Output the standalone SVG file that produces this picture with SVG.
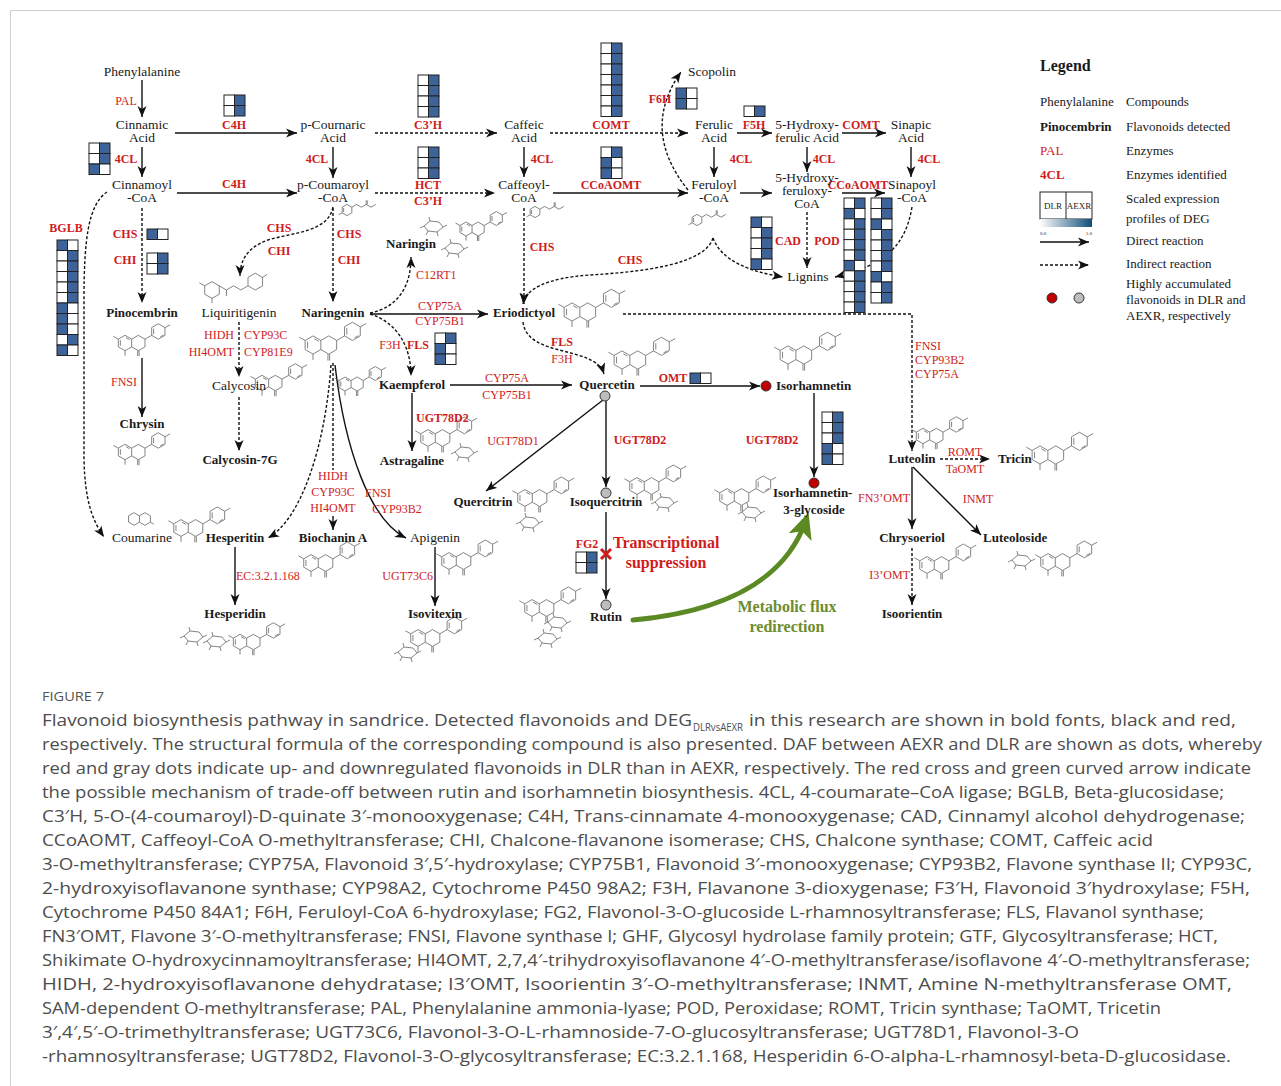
<svg xmlns="http://www.w3.org/2000/svg" width="1281" height="1086" viewBox="0 0 1281 1086">
<defs>
<style>
.c{font-family:"Liberation Serif",serif;font-size:13.5px;fill:#1a1a1a;text-anchor:middle}
.b{font-weight:bold;font-size:13px}
.e{font-family:"Liberation Serif",serif;font-size:12px;fill:#d01c1c;text-anchor:middle}
.eb{font-weight:bold}
.st{text-anchor:start}
.en{text-anchor:end}
.ln{fill:none;stroke:#111;stroke-width:1.4}
.dl{stroke-dasharray:3 2}
.mol{fill:none;stroke:#666;stroke-width:0.8}
.hw{fill:#fff;stroke:#222;stroke-width:1}
.hb{fill:#3d6399;stroke:#222;stroke-width:1}
.cap{font-family:"Open Sans",sans-serif;font-size:17px;fill:#4d4d4d}
.lg{font-family:"Liberation Serif",serif;font-size:13px;fill:#1a1a1a}
.gr{font-family:"Liberation Serif",serif;font-size:16px;font-weight:bold;fill:#6d8c2e;text-anchor:middle}
</style>
<marker id="ar" markerUnits="userSpaceOnUse" markerWidth="12" markerHeight="10" refX="11" refY="5" orient="auto"><path d="M0,0.5 L11,5 L0,9.5 L3,5Z" fill="#111"/></marker>
<marker id="ga" markerUnits="userSpaceOnUse" markerWidth="26" markerHeight="24" refX="18" refY="12" orient="auto"><path d="M0,0 L26,12 L0,24 L6,12Z" fill="#5b8a24"/></marker>
<linearGradient id="grd"><stop offset="0" stop-color="#ffffff"/><stop offset="1" stop-color="#0f4f78"/></linearGradient>
<g id="wb"><rect class="hw" width="10.5" height="10.5"/><rect class="hb" x="10.5" width="10.5" height="10.5"/></g>
<g id="bw"><rect class="hb" width="10.5" height="10.5"/><rect class="hw" x="10.5" width="10.5" height="10.5"/></g>
<path id="fl" class="mol" vector-effect="non-scaling-stroke" d="M0,-7 L6.06,-3.5 L6.06,3.5 L0,7 L-6.06,3.5 L-6.06,-3.5 Z M-4.2,-2.5 L-4.2,2.5 M1,-4.8 L4.3,-2.9 M6.06,-3.5 L12.12,-7 L18.18,-3.5 L18.18,3.5 L12.12,7 L6.06,3.5 M11.5,7 L11.5,12 M12.8,7 L12.8,12 M18.18,-3.5 L24.24,-7 M24.24,-7 L24.24,-14 L30.3,-17.5 L36.36,-14 L36.36,-7 L30.3,-3.5 Z M26,-8 L26,-13 M32,-5.5 L35,-7.2 M36.36,-14 L41,-16.5 M-6.06,-3.5 L-10.5,-6 M0,7 L0,11.5"/>
<path id="sg" class="mol" vector-effect="non-scaling-stroke" d="M0,0 L6,-5 L15,-4 L19,1 L13,6 L4,5 Z M19,1 L23,-1 M6,-5 L5,-9 M4,5 L2,9 M13,6 L14,10 M0,0 L-4,2"/>
<path id="cc" class="mol" vector-effect="non-scaling-stroke" d="M0,-7 L6.06,-3.5 L6.06,3.5 L0,7 L-6.06,3.5 L-6.06,-3.5 Z M-4.2,-2.5 L-4.2,2.5 M6.06,-3.5 L12,-7 L18,-3.5 L24,-7 L30,-3.5 L36,-7 M24,-7 L24,-12 M25.3,-7 L25.3,-12 M-6.06,3.5 L-10.5,6"/>
<path id="ch" class="mol" vector-effect="non-scaling-stroke" d="M0,-7 L6.06,-3.5 L6.06,3.5 L0,7 L-6.06,3.5 L-6.06,-3.5 Z M6.06,-3.5 L12,0 L18,-3.5 L24,0 L30,-3.5 M12,0 L12,5 M30,-3.5 L30,-10.5 L36.06,-14 L42.12,-10.5 L42.12,-3.5 L36.06,0 Z M42.12,-10.5 L46,-13 M-6.06,-3.5 L-10.5,-6 M0,7 L0,11"/>
<path id="cm" class="mol" vector-effect="non-scaling-stroke" d="M0,-7 L6.06,-3.5 L6.06,3.5 L0,7 L-6.06,3.5 L-6.06,-3.5 Z M6.06,-3.5 L12.12,-7 L18.18,-3.5 L18.18,3.5 L12.12,7 L6.06,3.5 M18.18,3.5 L22,6"/>
</defs>
<rect width="1281" height="1086" fill="#fff"/>
<path d="M10.5,1086 L10.5,10.5 L1281,10.5" fill="none" stroke="#cfcfcf" stroke-width="1"/>

<g id="connectors">
<path class="ln" marker-end="url(#ar)" d="M142,80 L142,117"/>
<path class="ln" marker-end="url(#ar)" d="M142,147 L142,177"/>
<path class="ln" marker-end="url(#ar)" d="M175,133 L297,133"/>
<path class="ln" marker-end="url(#ar)" d="M177,193 L297,193"/>
<path class="ln" marker-end="url(#ar)" d="M333,147 L333,178"/>
<path class="ln dl" marker-end="url(#ar)" d="M375,133 L497,133"/>
<path class="ln dl" marker-end="url(#ar)" d="M375,193 L495,193"/>
<path class="ln" marker-end="url(#ar)" d="M524,147 L524,177"/>
<path class="ln dl" marker-end="url(#ar)" d="M550,133 L688,133"/>
<path class="ln" marker-end="url(#ar)" d="M553,193 L688,193"/>
<path class="ln" marker-end="url(#ar)" d="M714,147 L714,177"/>
<path class="ln" marker-end="url(#ar)" d="M737,133 L772,133"/>
<path class="ln" marker-end="url(#ar)" d="M807,147 L807,172"/>
<path class="ln" marker-end="url(#ar)" d="M740,193 L772,193"/>
<path class="ln" marker-end="url(#ar)" d="M842,133 L886,133"/>
<path class="ln" marker-end="url(#ar)" d="M911,147 L911,177"/>
<path class="ln" marker-end="url(#ar)" d="M842,193 L885,193"/>
<path class="ln dl" marker-end="url(#ar)" d="M688,190 Q640,130 681,72"/>
<path class="ln dl" marker-end="url(#ar)" d="M807,212 L807,268"/>
<path class="ln dl" marker-end="url(#ar)" d="M912,207 C905,250 880,266 835,277"/>
<path class="ln dl" marker-end="url(#ar)" d="M713,238 C722,262 752,272 783,277"/>
<path class="ln dl" marker-end="url(#ar)" d="M713,238 C705,265 640,272 590,275 C545,278 525,290 523,304"/>
<path class="ln dl" marker-end="url(#ar)" d="M524,208 L524,304"/>
<path class="ln dl" marker-end="url(#ar)" d="M333,208 L333,302"/>
<path class="ln dl" marker-end="url(#ar)" d="M333,207 C328,232 295,232 268,240 C248,247 240,260 240,276"/>
<path class="ln dl" marker-end="url(#ar)" d="M142,208 L142,303"/>
<path class="ln dl" marker-end="url(#ar)" d="M107,192 C88,205 84,240 84,300 L84,460 C85,500 92,520 104,537"/>
<path class="ln" marker-end="url(#ar)" d="M142,358 L142,417"/>
<path class="ln dl" marker-end="url(#ar)" d="M239,322 L239,377"/>
<path class="ln dl" marker-end="url(#ar)" d="M239,397 L239,451"/>
<path class="ln dl" marker-end="url(#ar)" d="M370,313 C395,308 411,290 411,257"/>
<path class="ln" marker-end="url(#ar)" d="M370,314 L488,314"/>
<path class="ln dl" marker-end="url(#ar)" d="M370,314 C396,322 411,345 411,376"/>
<path class="ln" marker-end="url(#ar)" d="M450,385 L572,385"/>
<path class="ln" marker-end="url(#ar)" d="M412,393 L412,451"/>
<path class="ln dl" marker-end="url(#ar)" d="M523,322 C527,358 595,345 604,374"/>
<path class="ln dl" marker-end="url(#ar)" d="M623,314 L912,314 L912,451"/>
<path class="ln" marker-end="url(#ar)" d="M640,386 L760,386"/>
<path class="ln" marker-end="url(#ar)" d="M603,400 L486,491"/>
<path class="ln" marker-end="url(#ar)" d="M606,401 L606,487"/>
<path class="ln" marker-end="url(#ar)" d="M606,512 L606,599"/>
<path class="ln" marker-end="url(#ar)" d="M814,393 L814,477"/>
<path class="ln dl" d="M333,363 L333,470"/>
<path class="ln" marker-end="url(#ar)" d="M333,516 L333,530"/>
<path class="ln dl" marker-end="url(#ar)" d="M331,365 C325,450 300,520 268,538"/>
<path class="ln" marker-end="url(#ar)" d="M335,365 C345,450 370,520 406,538"/>
<path class="ln" marker-end="url(#ar)" d="M235,547 L235,605"/>
<path class="ln" marker-end="url(#ar)" d="M435,547 L435,606"/>
<path class="ln dl" marker-end="url(#ar)" d="M940,459 L990,459"/>
<path class="ln" marker-end="url(#ar)" d="M912,467 L912,529"/>
<path class="ln" marker-end="url(#ar)" d="M913,467 L981,535"/>
<path class="ln dl" marker-end="url(#ar)" d="M912,548 L912,605"/>
<path fill="none" stroke="#5b8a24" stroke-width="5" stroke-linecap="round" marker-end="url(#ga)" d="M633,620 C720,612 785,582 806,520"/>
<path d="M601,549 L611,559 M611,549 L601,559" stroke="#d01c1c" stroke-width="3"/>
</g>

<g id="structures">
<use href="#cc" transform="translate(347,210) scale(0.8)"/>
<use href="#cc" transform="translate(535,212) scale(0.8)"/>
<use href="#cc" transform="translate(697,220) scale(0.8)"/>
<use href="#fl" transform="translate(466,229) scale(1.0)"/>
<use href="#sg" transform="translate(424,226)"/>
<use href="#sg" transform="translate(445,248)"/>
<use href="#ch" transform="translate(212,290) scale(1.2)"/>
<use href="#fl" transform="translate(313,345) scale(1.3)"/>
<use href="#fl" transform="translate(125,343) scale(1.1)"/>
<use href="#fl" transform="translate(125,452) scale(1.1)"/>
<use href="#fl" transform="translate(262,383) scale(1.1)"/>
<use href="#fl" transform="translate(345,384) scale(1.0)"/>
<use href="#fl" transform="translate(572,312) scale(1.3)"/>
<use href="#fl" transform="translate(622,360) scale(1.3)"/>
<use href="#fl" transform="translate(788,355) scale(1.3)"/>
<use href="#fl" transform="translate(428,438) scale(1.2)"/>
<use href="#sg" transform="translate(455,452)"/>
<use href="#fl" transform="translate(525,498) scale(1.2)"/>
<use href="#sg" transform="translate(520,522)"/>
<use href="#fl" transform="translate(637,486) scale(1.2)"/>
<use href="#sg" transform="translate(655,502)"/>
<use href="#fl" transform="translate(532,608) scale(1.2)"/>
<use href="#sg" transform="translate(548,622)"/>
<use href="#sg" transform="translate(538,638)"/>
<use href="#fl" transform="translate(727,497) scale(1.2)"/>
<use href="#sg" transform="translate(742,512)"/>
<use href="#fl" transform="translate(923,436) scale(1.1)"/>
<use href="#fl" transform="translate(1040,455) scale(1.3)"/>
<use href="#fl" transform="translate(927,565) scale(1.2)"/>
<use href="#sg" transform="translate(1012,560)"/>
<use href="#fl" transform="translate(1048,562) scale(1.2)"/>
<use href="#cm" transform="translate(134,519) scale(0.9)"/>
<use href="#fl" transform="translate(181,528) scale(1.2)"/>
<use href="#fl" transform="translate(311,563) scale(1.2)"/>
<use href="#fl" transform="translate(449,561) scale(1.2)"/>
<use href="#sg" transform="translate(184,636)"/>
<use href="#sg" transform="translate(207,641)"/>
<use href="#fl" transform="translate(240,642) scale(1.1)"/>
<use href="#fl" transform="translate(418,638) scale(1.2)"/>
<use href="#sg" transform="translate(398,652)"/>
</g>

<g id="heatmaps">
<g id="hm-c4h" transform="translate(224,95)"><use href="#wb"/><use href="#wb" y="10.5"/></g>
<g id="hm-4cl" transform="translate(89,143)"><use href="#wb"/><use href="#wb" y="10.5"/><use href="#bw" y="21"/></g>
<g id="hm-c3h" transform="translate(418,75)"><use href="#wb"/><use href="#wb" y="10.5"/><use href="#wb" y="21"/><use href="#wb" y="31.5"/></g>
<g id="hm-hct" transform="translate(418,147)"><use href="#wb"/><use href="#wb" y="10.5"/><use href="#wb" y="21"/></g>
<g id="hm-comt" transform="translate(601,43)"><use href="#wb"/><use href="#wb" y="10.5"/><use href="#wb" y="21"/><use href="#wb" y="31.5"/><use href="#wb" y="42"/><use href="#wb" y="52.5"/><use href="#wb" y="63"/></g>
<g id="hm-ccoaomt" transform="translate(601,147)"><use href="#wb"/><use href="#bw" y="10.5"/><use href="#bw" y="21"/></g>
<g id="hm-f6h" transform="translate(676,88)"><use href="#bw"/><use href="#bw" y="10.5"/></g>
<g id="hm-f5h" transform="translate(744,106)"><use href="#wb"/></g>
<g id="hm-cad" transform="translate(751,217)"><use href="#bw"/><use href="#wb" y="10.5"/><use href="#wb" y="21"/><use href="#wb" y="31.5"/><use href="#bw" y="42"/></g>
<g id="hm-big1" transform="translate(844,198)"><use href="#wb"/><use href="#bw" y="10.4"/><use href="#wb" y="20.8"/><use href="#wb" y="31.2"/><use href="#wb" y="41.6"/><use href="#wb" y="52"/><use href="#bw" y="62.4"/><use href="#wb" y="72.8"/><use href="#wb" y="83.2"/><use href="#wb" y="93.6"/><use href="#wb" y="104"/></g>
<g id="hm-big2" transform="translate(871,198)"><use href="#wb"/><use href="#wb" y="10.5"/><use href="#bw" y="21"/><use href="#wb" y="31.5"/><use href="#wb" y="42"/><use href="#wb" y="52.5"/><use href="#wb" y="63"/><use href="#bw" y="73.5"/><use href="#wb" y="84"/><use href="#wb" y="94.5"/></g>
<g id="hm-bglb" transform="translate(57,240)"><use href="#bw"/><use href="#wb" y="10.5"/><use href="#wb" y="21"/><use href="#wb" y="31.5"/><use href="#wb" y="42"/><use href="#wb" y="52.5"/><use href="#bw" y="63"/><use href="#bw" y="73.5"/><use href="#bw" y="84"/><use href="#wb" y="94.5"/><use href="#bw" y="105"/></g>
<g id="hm-chs" transform="translate(147,229)"><use href="#bw"/></g>
<g id="hm-chi" transform="translate(147,253)"><use href="#wb"/><use href="#wb" y="10.5"/></g>
<g id="hm-fls" transform="translate(435,333)"><use href="#wb"/><use href="#bw" y="10.5"/><use href="#bw" y="21"/></g>
<g id="hm-omt" transform="translate(690,373)"><use href="#bw"/></g>
<g id="hm-ugt" transform="translate(822,412)"><use href="#wb"/><use href="#wb" y="10.5"/><use href="#wb" y="21"/><use href="#bw" y="31.5"/><use href="#bw" y="42"/></g>
<g id="hm-fg2" transform="translate(576,552)"><use href="#wb"/><use href="#wb" y="10.5"/></g>
</g>

<g id="enzymes">
<text class="e" x="126" y="105">PAL</text>
<text class="e eb" x="126" y="163">4CL</text>
<text class="e eb" x="234" y="129">C4H</text>
<text class="e eb" x="234" y="188">C4H</text>
<text class="e eb" x="317" y="163">4CL</text>
<text class="e eb" x="428" y="129">C3’H</text>
<text class="e eb" x="428" y="189">HCT</text>
<text class="e eb" x="428" y="205">C3’H</text>
<text class="e eb" x="542" y="163">4CL</text>
<text class="e eb" x="611" y="129">COMT</text>
<text class="e eb" x="611" y="189">CCoAOMT</text>
<text class="e eb" x="660" y="103">F6H</text>
<text class="e eb" x="741" y="163">4CL</text>
<text class="e eb" x="754" y="129">F5H</text>
<text class="e eb" x="824" y="163">4CL</text>
<text class="e eb" x="861" y="129">COMT</text>
<text class="e eb" x="929" y="163">4CL</text>
<text class="e eb" x="858" y="189">CCoAOMT</text>
<text class="e eb" x="788" y="245">CAD</text>
<text class="e eb" x="827" y="245">POD</text>
<text class="e eb" x="542" y="251">CHS</text>
<text class="e eb" x="630" y="264">CHS</text>
<text class="e st" x="416" y="279">C12RT1</text>
<text class="e eb" x="279" y="232">CHS</text>
<text class="e eb" x="279" y="255">CHI</text>
<text class="e eb" x="349" y="238">CHS</text>
<text class="e eb" x="349" y="264">CHI</text>
<text class="e eb" x="125" y="238">CHS</text>
<text class="e eb" x="125" y="264">CHI</text>
<text class="e eb" x="66" y="232">BGLB</text>
<text class="e" x="440" y="310">CYP75A</text>
<text class="e" x="440" y="325">CYP75B1</text>
<text class="e" x="390" y="349">F3H</text>
<text class="e eb" x="418" y="349">FLS</text>
<text class="e en" x="234" y="339">HIDH</text>
<text class="e en" x="234" y="356">HI4OMT</text>
<text class="e st" x="244" y="339">CYP93C</text>
<text class="e st" x="244" y="356">CYP81E9</text>
<text class="e" x="124" y="386">FNSI</text>
<text class="e" x="507" y="382">CYP75A</text>
<text class="e" x="507" y="399">CYP75B1</text>
<text class="e eb" x="562" y="346">FLS</text>
<text class="e" x="562" y="363">F3H</text>
<text class="e eb" x="673" y="382">OMT</text>
<text class="e eb st" x="416" y="422">UGT78D2</text>
<text class="e" x="513" y="445">UGT78D1</text>
<text class="e eb" x="640" y="444">UGT78D2</text>
<text class="e eb" x="772" y="444">UGT78D2</text>
<text class="e st" x="915" y="350">FNSI</text>
<text class="e st" x="915" y="364">CYP93B2</text>
<text class="e st" x="915" y="378">CYP75A</text>
<text class="e" x="965" y="456">ROMT</text>
<text class="e" x="965" y="473">TaOMT</text>
<text class="e" x="333" y="480">HIDH</text>
<text class="e" x="333" y="496">CYP93C</text>
<text class="e" x="333" y="512">HI4OMT</text>
<text class="e" x="378" y="497">FNSI</text>
<text class="e" x="397" y="513">CYP93B2</text>
<text class="e st" x="858" y="502">FN3’OMT</text>
<text class="e" x="978" y="503">INMT</text>
<text class="e eb" x="587" y="548">FG2</text>
<text class="e st" x="236" y="580">EC:3.2.1.168</text>
<text class="e en" x="433" y="580">UGT73C6</text>
<text class="e en" x="910" y="579">I3’OMT</text>
<text class="e eb st" x="613" y="548" style="font-size:16px">Transcriptional</text>
<text class="e eb" x="666" y="568" style="font-size:16px">suppression</text>
</g>

<g id="nodes">
<g id="n-phenylalanine"><text class="c" x="142" y="76">Phenylalanine</text></g>
<g id="n-cinnamic"><text class="c" x="142" y="129">Cinnamic</text><text class="c" x="142" y="142">Acid</text></g>
<g id="n-cinnamoyl"><text class="c" x="142" y="189">Cinnamoyl</text><text class="c" x="142" y="202">-CoA</text></g>
<g id="n-pcoumaric"><text class="c" x="333" y="129">p-Cournaric</text><text class="c" x="333" y="142">Acid</text></g>
<g id="n-pcoumaroyl"><text class="c" x="333" y="189">p-Coumaroyl</text><text class="c" x="333" y="202">-CoA</text></g>
<g id="n-caffeic"><text class="c" x="524" y="129">Caffeic</text><text class="c" x="524" y="142">Acid</text></g>
<g id="n-caffeoyl"><text class="c" x="524" y="189">Caffeoyl-</text><text class="c" x="524" y="202">CoA</text></g>
<g id="n-scopolin"><text class="c" x="712" y="76">Scopolin</text></g>
<g id="n-ferulic"><text class="c" x="714" y="129">Ferulic</text><text class="c" x="714" y="142">Acid</text></g>
<g id="n-feruloyl"><text class="c" x="714" y="189">Feruloyl</text><text class="c" x="714" y="202">-CoA</text></g>
<g id="n-5hfa"><text class="c" x="807" y="129">5-Hydroxy-</text><text class="c" x="807" y="142">ferulic Acid</text></g>
<g id="n-5hfc"><text class="c" x="807" y="182">5-Hydroxy-</text><text class="c" x="807" y="195">feruloxy-</text><text class="c" x="807" y="208">CoA</text></g>
<g id="n-sinapic"><text class="c" x="911" y="129">Sinapic</text><text class="c" x="911" y="142">Acid</text></g>
<g id="n-sinapoyl"><text class="c" x="912" y="189">Sinapoyl</text><text class="c" x="912" y="202">-CoA</text></g>
<g id="n-lignins"><text class="c" x="808" y="281">Lignins</text></g>
<g id="n-naringin"><text class="c b" x="411" y="248">Naringin</text></g>
<g id="n-pinocembrin"><text class="c b" x="142" y="317">Pinocembrin</text></g>
<g id="n-liquiritigenin"><text class="c" x="239" y="317">Liquiritigenin</text></g>
<g id="n-naringenin"><text class="c b" x="333" y="317">Naringenin</text></g>
<g id="n-eriodictyol"><text class="c b" x="524" y="317">Eriodictyol</text></g>
<g id="n-calycosin"><text class="c" x="239" y="390">Calycosin</text></g>
<g id="n-kaempferol"><text class="c b" x="412" y="389">Kaempferol</text></g>
<g id="n-quercetin"><text class="c b" x="607" y="389">Quercetin</text><circle cx="605" cy="396" r="5" fill="#bdbdbd" stroke="#333" stroke-width="1"/></g>
<g id="n-isorhamnetin"><circle cx="766" cy="386" r="5" fill="#c00000" stroke="#333" stroke-width="1"/><text class="c b st" x="776" y="390">Isorhamnetin</text></g>
<g id="n-chrysin"><text class="c b" x="142" y="428">Chrysin</text></g>
<g id="n-calycosin7g"><text class="c b" x="240" y="464">Calycosin-7G</text></g>
<g id="n-astragaline"><text class="c b" x="412" y="465">Astragaline</text></g>
<g id="n-luteolin"><text class="c b" x="912" y="463">Luteolin</text></g>
<g id="n-tricin"><text class="c b st" x="998" y="463">Tricin</text></g>
<g id="n-quercitrin"><text class="c b" x="483" y="506">Quercitrin</text></g>
<g id="n-isoquercitrin"><circle cx="606" cy="493" r="5" fill="#bdbdbd" stroke="#333" stroke-width="1"/><text class="c b" x="606" y="506">Isoquercitrin</text></g>
<g id="n-isorhamnetin3g"><circle cx="814" cy="483" r="5" fill="#c00000" stroke="#333" stroke-width="1"/><text class="c b st" x="773" y="497">Isorhamnetin-</text><text class="c b" x="814" y="514">3-glycoside</text></g>
<g id="n-coumarine"><text class="c" x="142" y="542">Coumarine</text></g>
<g id="n-hesperitin"><text class="c b" x="235" y="542">Hesperitin</text></g>
<g id="n-biochanin"><text class="c b" x="333" y="542">Biochanin A</text></g>
<g id="n-apigenin"><text class="c" x="435" y="542">Apigenin</text></g>
<g id="n-chrysoeriol"><text class="c b" x="912" y="542">Chrysoeriol</text></g>
<g id="n-luteoloside"><text class="c b st" x="983" y="542">Luteoloside</text></g>
<g id="n-hesperidin"><text class="c b" x="235" y="618">Hesperidin</text></g>
<g id="n-isovitexin"><text class="c b" x="435" y="618">Isovitexin</text></g>
<g id="n-rutin"><circle cx="606" cy="605" r="5" fill="#bdbdbd" stroke="#333" stroke-width="1"/><text class="c b" x="606" y="621">Rutin</text></g>
<g id="n-isoorientin"><text class="c b" x="912" y="618">Isoorientin</text></g>
<g id="n-flux"><text class="gr" x="787" y="612">Metabolic flux</text><text class="gr" x="787" y="632">redirection</text></g>
</g>

<g id="legend">
<text class="lg" x="1040" y="71" style="font-weight:bold;font-size:16px">Legend</text>
<text class="lg" x="1040" y="106">Phenylalanine</text><text class="lg" x="1126" y="106">Compounds</text>
<text class="lg" x="1040" y="131" style="font-weight:bold">Pinocembrin</text><text class="lg" x="1126" y="131">Flavonoids detected</text>
<text class="lg" x="1040" y="155" style="fill:#d01c1c">PAL</text><text class="lg" x="1126" y="155">Enzymes</text>
<text class="lg" x="1040" y="179" style="fill:#d01c1c;font-weight:bold">4CL</text><text class="lg" x="1126" y="179">Enzymes identified</text>
<rect x="1040" y="192" width="52" height="27" fill="#fff" stroke="#222" stroke-width="1"/>
<line x1="1066" y1="192" x2="1066" y2="219" stroke="#222" stroke-width="1"/>
<text class="lg" x="1053" y="209" style="font-size:9px;text-anchor:middle">DLR</text>
<text class="lg" x="1079" y="209" style="font-size:9px;text-anchor:middle">AEXR</text>
<rect x="1040" y="219" width="52" height="8" fill="url(#grd)"/>
<text class="lg" x="1040" y="235" style="font-size:5px">0.0</text>
<text class="lg" x="1092" y="235" style="font-size:5px;text-anchor:end">1.0</text>
<text class="lg" x="1126" y="203">Scaled expression</text>
<text class="lg" x="1126" y="223">profiles of DEG</text>
<path class="ln" marker-end="url(#ar)" d="M1040,242 L1089,242"/>
<text class="lg" x="1126" y="245">Direct reaction</text>
<path class="ln dl" marker-end="url(#ar)" d="M1040,265 L1089,265"/>
<text class="lg" x="1126" y="268">Indirect reaction</text>
<circle cx="1052" cy="298" r="5" fill="#c00000" stroke="#333" stroke-width="1"/>
<circle cx="1079" cy="298" r="5" fill="#bdbdbd" stroke="#333" stroke-width="1"/>
<text class="lg" x="1126" y="288">Highly accumulated</text>
<text class="lg" x="1126" y="304">flavonoids in DLR and</text>
<text class="lg" x="1126" y="320">AEXR, respectively</text>
</g>

<g id="caption">
<text x="42" y="701" textLength="62" lengthAdjust="spacingAndGlyphs" style="font-family:'Open Sans',sans-serif;font-size:13.5px;fill:#555">FIGURE 7</text>
<text class="cap" y="726"><tspan x="42" textLength="650" lengthAdjust="spacingAndGlyphs">Flavonoid biosynthesis pathway in sandrice. Detected flavonoids and DEG</tspan><tspan x="693" dy="5" textLength="50" lengthAdjust="spacingAndGlyphs" style="font-size:11.5px">DLRvsAEXR</tspan><tspan x="749" dy="-5" textLength="487" lengthAdjust="spacingAndGlyphs">in this research are shown in bold fonts, black and red,</tspan></text>
<text class="cap" x="42" y="750" textLength="1220" lengthAdjust="spacingAndGlyphs">respectively. The structural formula of the corresponding compound is also presented. DAF between AEXR and DLR are shown as dots, whereby</text>
<text class="cap" x="42" y="774" textLength="1209" lengthAdjust="spacingAndGlyphs">red and gray dots indicate up- and downregulated flavonoids in DLR than in AEXR, respectively. The red cross and green curved arrow indicate</text>
<text class="cap" x="42" y="798" textLength="1182" lengthAdjust="spacingAndGlyphs">the possible mechanism of trade-off between rutin and isorhamnetin biosynthesis. 4CL, 4-coumarate–CoA ligase; BGLB, Beta-glucosidase;</text>
<text class="cap" x="42" y="822" textLength="1203" lengthAdjust="spacingAndGlyphs">C3′H, 5-O-(4-coumaroyl)-D-quinate 3′-monooxygenase; C4H, Trans-cinnamate 4-monooxygenase; CAD, Cinnamyl alcohol dehydrogenase;</text>
<text class="cap" x="42" y="846" textLength="1111" lengthAdjust="spacingAndGlyphs">CCoAOMT, Caffeoyl-CoA O-methyltransferase; CHI, Chalcone-flavanone isomerase; CHS, Chalcone synthase; COMT, Caffeic acid</text>
<text class="cap" x="42" y="870" textLength="1210" lengthAdjust="spacingAndGlyphs">3-O-methyltransferase; CYP75A, Flavonoid 3′,5′-hydroxylase; CYP75B1, Flavonoid 3′-monooxygenase; CYP93B2, Flavone synthase II; CYP93C,</text>
<text class="cap" x="42" y="894" textLength="1208" lengthAdjust="spacingAndGlyphs">2-hydroxyisoflavanone synthase; CYP98A2, Cytochrome P450 98A2; F3H, Flavanone 3-dioxygenase; F3′H, Flavonoid 3′hydroxylase; F5H,</text>
<text class="cap" x="42" y="918" textLength="1162" lengthAdjust="spacingAndGlyphs">Cytochrome P450 84A1; F6H, Feruloyl-CoA 6-hydroxylase; FG2, Flavonol-3-O-glucoside L-rhamnosyltransferase; FLS, Flavanol synthase;</text>
<text class="cap" x="42" y="942" textLength="1176" lengthAdjust="spacingAndGlyphs">FN3′OMT, Flavone 3′-O-methyltransferase; FNSI, Flavone synthase I; GHF, Glycosyl hydrolase family protein; GTF, Glycosyltransferase; HCT,</text>
<text class="cap" x="42" y="966" textLength="1208" lengthAdjust="spacingAndGlyphs">Shikimate O-hydroxycinnamoyltransferase; HI4OMT, 2,7,4′-trihydroxyisoflavanone 4′-O-methyltransferase/isoflavone 4′-O-methyltransferase;</text>
<text class="cap" x="42" y="990" textLength="1190" lengthAdjust="spacingAndGlyphs">HIDH, 2-hydroxyisoflavanone dehydratase; I3′OMT, Isoorientin 3′-O-methyltransferase; INMT, Amine N-methyltransferase OMT,</text>
<text class="cap" x="42" y="1014" textLength="1119" lengthAdjust="spacingAndGlyphs">SAM-dependent O-methyltransferase; PAL, Phenylalanine ammonia-lyase; POD, Peroxidase; ROMT, Tricin synthase; TaOMT, Tricetin</text>
<text class="cap" x="42" y="1038" textLength="1037" lengthAdjust="spacingAndGlyphs">3′,4′,5′-O-trimethyltransferase; UGT73C6, Flavonol-3-O-L-rhamnoside-7-O-glucosyltransferase; UGT78D1, Flavonol-3-O</text>
<text class="cap" x="42" y="1062" textLength="1189" lengthAdjust="spacingAndGlyphs">-rhamnosyltransferase; UGT78D2, Flavonol-3-O-glycosyltransferase; EC:3.2.1.168, Hesperidin 6-O-alpha-L-rhamnosyl-beta-D-glucosidase.</text>
</g>
</svg>
